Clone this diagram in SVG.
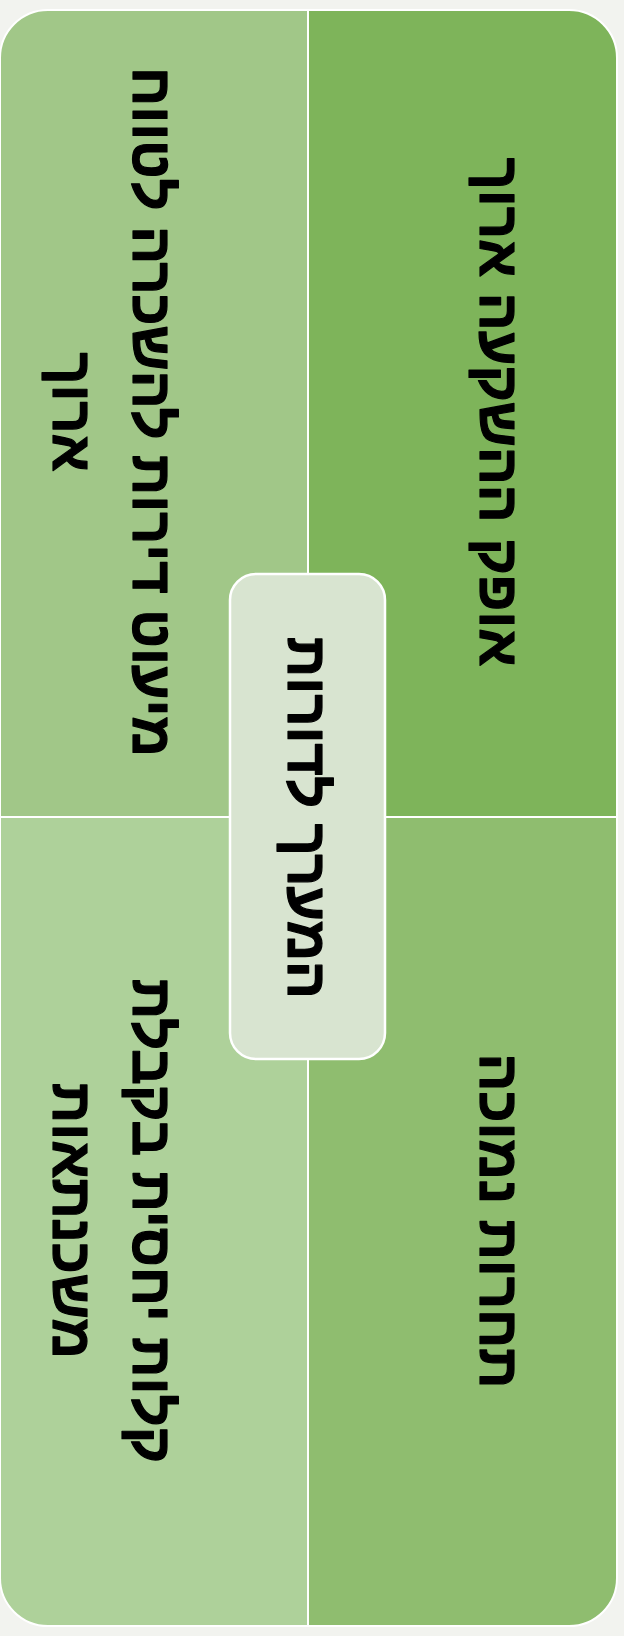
<svg xmlns="http://www.w3.org/2000/svg" width="624" height="1636" viewBox="0 0 624 1636">
  <style>
    .quad { stroke: #ffffff; stroke-width: 2; }
    .hub { fill: #d8e4d0; stroke: #ffffff; stroke-width: 2.5; }
    .lbl { font-family: "Liberation Sans", "DejaVu Sans", sans-serif; font-weight: bold; font-size: 56px; fill: #000000; stroke: #000000; stroke-width: 1.2; stroke-linejoin: round; text-anchor: middle; }
  </style>
  <rect width="624" height="1636" fill="#f2f3ef"/>

  <!-- four quadrants, each with one rounded outer corner; labels run bottom-to-top -->
  <g id="q-top-right">
    <path class="quad" fill="#7eb45a" d="M308 10 H569 A48 48 0 0 1 617 58 V817 H308 Z"/>
    <text class="lbl" transform="translate(480 412) rotate(90)">אופק ההשקעה ארוך</text>
  </g>
  <g id="q-bottom-right">
    <path class="quad" fill="#8fbd6f" d="M308 817 H617 V1578 A48 48 0 0 1 569 1626 H308 Z"/>
    <text class="lbl" transform="translate(480 1221) rotate(90)">תחרות נמוכה</text>
  </g>
  <g id="q-top-left">
    <path class="quad" fill="#a1c788" d="M48 10 H308 V817 H0 V58 A48 48 0 0 1 48 10 Z"/>
    <text class="lbl" transform="translate(133 412) rotate(90)">מיעוט דירות להשכרה לטווח</text>
    <text class="lbl" transform="translate(53 412) rotate(90)">ארוך</text>
  </g>
  <g id="q-bottom-left">
    <path class="quad" fill="#aed19a" d="M0 817 H308 V1626 H48 A48 48 0 0 1 0 1578 Z"/>
    <text class="lbl" transform="translate(133 1221) rotate(90)">קלות יחסית בקבלת</text>
    <text class="lbl" transform="translate(53 1221) rotate(90)">משכנתאות</text>
  </g>

  <!-- central hub -->
  <g id="hub">
    <rect class="hub" x="230" y="574" width="155" height="485" rx="26" ry="26"/>
    <text class="lbl" transform="translate(288 818) rotate(90)">המערך לדורות</text>
  </g>
</svg>
